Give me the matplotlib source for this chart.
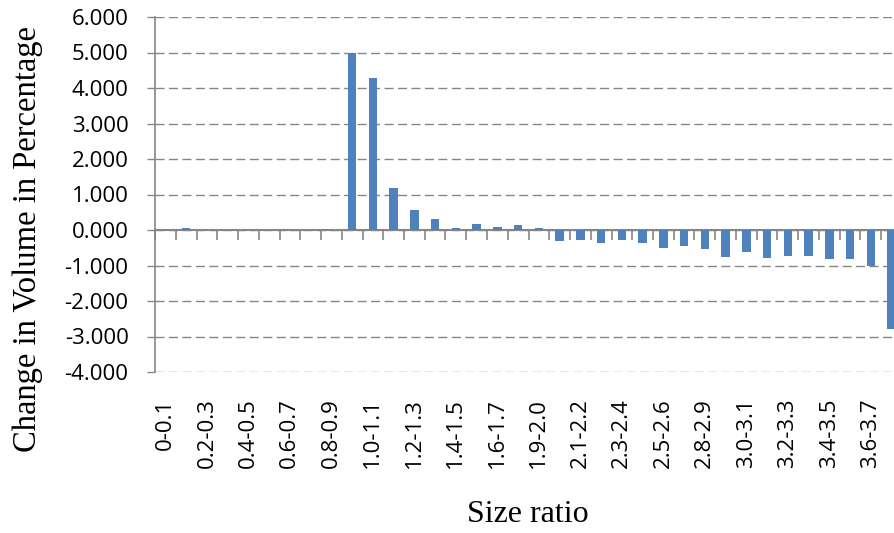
import matplotlib.pyplot as plt
import numpy as np

# size ratio bins (every other one is labelled on the axis)
categories = [
    "0-0.1", "0.1-0.2", "0.2-0.3", "0.3-0.4", "0.4-0.5", "0.5-0.6",
    "0.6-0.7", "0.7-0.8", "0.8-0.9", "0.9-1.0", "1.0-1.1", "1.1-1.2",
    "1.2-1.3", "1.3-1.4", "1.4-1.5", "1.5-1.6", "1.6-1.7", "1.8-1.9",
    "1.9-2.0", "2.0-2.1", "2.1-2.2", "2.2-2.3", "2.3-2.4", "2.4-2.5",
    "2.5-2.6", "2.6-2.7", "2.8-2.9", "2.9-3.0", "3.0-3.1", "3.1-3.2",
    "3.2-3.3", "3.3-3.4", "3.4-3.5", "3.5-3.6", "3.6-3.7", "3.7-3.8",
]
volume_change = [
    0.0, 0.05, 0.0, 0.0, 0.0, 0.0,
    0.0, 0.0, 0.0, 5.0, 4.27, 1.19,
    0.57, 0.31, 0.07, 0.18, 0.09, 0.13,
    0.07, -0.31, -0.28, -0.38, -0.28, -0.37,
    -0.52, -0.44, -0.54, -0.76, -0.63, -0.79,
    -0.72, -0.72, -0.83, -0.83, -1.01, -2.78,
]
y_ticks = [-4, -3, -2, -1, 0, 1, 2, 3, 4, 5, 6]

BLUE = "#4F81BD"
GREY = "#868686"
TICK_FONT = "Open Sans"
SERIF = "Liberation Serif"

fig = plt.figure(figsize=(8.95, 5.33), dpi=100)
ax = fig.add_axes([155 / 895, 1 - 372 / 533, 1 - 155 / 895, (372 - 17) / 533])

x = np.arange(len(categories))
ax.bar(x, volume_change, width=0.4, color=BLUE, zorder=3)

ax.set_xlim(-0.5, -0.5 + (895 - 155) / 20.75)
ax.set_ylim(-4, 6)

# dashed horizontal grid
ax.set_yticks(y_ticks)
ax.set_yticklabels([f"{v:.3f}" for v in y_ticks], fontfamily=TICK_FONT, fontsize=16)
ax.yaxis.grid(True, color=GREY, linestyle=(0, (6.5, 3.2)), linewidth=1.0, zorder=0)
ax.tick_params(axis="y", length=6, width=1, color=GREY, pad=13)

# category labels sit under the plot area
ax.set_xticks(x[::2])
ax.set_xticklabels(categories[::2], rotation=90, fontfamily=TICK_FONT, fontsize=16,
                   va="top")
ax.tick_params(axis="x", length=0, pad=19)

for side in ("top", "right", "bottom"):
    ax.spines[side].set_visible(False)
ax.spines["left"].set_color(GREY)
ax.spines["left"].set_linewidth(1.2)

# zero line carrying the bin boundary ticks
zero_frac = (0 - (-4)) / (6 - (-4))
zero_axis = ax.secondary_xaxis(zero_frac)
zero_axis.set_xticks(np.arange(len(categories) + 1) - 0.5)
zero_axis.set_xticklabels([])
zero_axis.tick_params(length=7, width=1.2, color=GREY)
zero_axis.spines["bottom"].set_color(GREY)
zero_axis.spines["bottom"].set_linewidth(1.5)

fig.text(28 / 895, 1 - 239 / 533, "Change in Volume in Percentage", rotation=90,
         ha="center", va="center", fontfamily=SERIF, fontsize=23.5)
fig.text(528 / 895, 1 - 515 / 533, "Size ratio", ha="center", va="center",
         fontfamily=SERIF, fontsize=23)

fig.savefig("out.png", dpi=100)
